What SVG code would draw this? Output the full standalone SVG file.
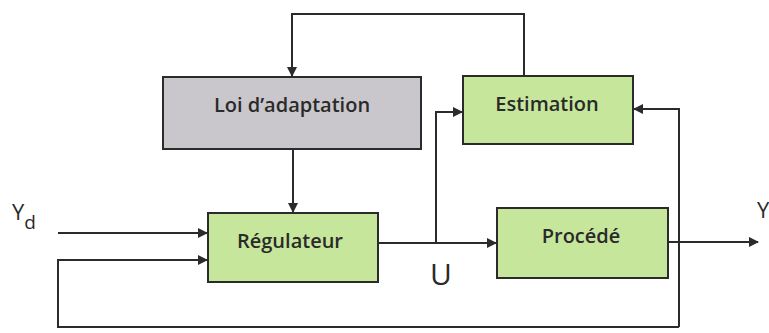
<svg xmlns="http://www.w3.org/2000/svg" width="769" height="333" viewBox="0 0 769 333">
  <style>
    .box { stroke: #2b2b2b; stroke-width: 2; }
    .green { fill: #c6e69c; }
    .gray { fill: #c9c7cc; }
    .lbl { font-family: "Open Sans", Lato, sans-serif; font-weight: 600; font-size: 20px; fill: #2a2a2a; text-anchor: middle; }
    .sig { font-family: "Open Sans", "Liberation Sans", sans-serif; fill: #2a2a2a; }
    .wire { fill: none; stroke: #2b2b2b; stroke-width: 2; }
  </style>
  <defs>
    <marker id="arr" viewBox="0 0 10 10" refX="9" refY="5" markerWidth="10" markerHeight="10" markerUnits="userSpaceOnUse" orient="auto">
      <path d="M0,0 L10,5 L0,10 Z" fill="#2b2b2b"/>
    </marker>
  </defs>

  <rect width="769" height="333" fill="#ffffff"/>

  <g id="connectors">
    <!-- estimation feeds adaptation law -->
    <polyline class="wire" points="524,76 524,14 292,14 292,76" marker-end="url(#arr)"/>
    <!-- adaptation law to controller -->
    <line class="wire" x1="293" y1="149" x2="293" y2="212" marker-end="url(#arr)"/>
    <!-- setpoint -->
    <line class="wire" x1="58" y1="233" x2="207" y2="233" marker-end="url(#arr)"/>
    <!-- control signal U -->
    <line class="wire" x1="378" y1="243" x2="496" y2="243" marker-end="url(#arr)"/>
    <polyline class="wire" points="436,243 436,112 462,112" marker-end="url(#arr)"/>
    <!-- process output -->
    <line class="wire" x1="668" y1="242" x2="758" y2="242" marker-end="url(#arr)"/>
    <!-- output feedback to estimation and controller -->
    <polyline class="wire" points="679,327 679,109 634,109" marker-end="url(#arr)"/>
    <polyline class="wire" points="679,327 58,327 58,260 207,260" marker-end="url(#arr)"/>
  </g>

  <g id="loi-adaptation">
    <rect class="box gray" x="163" y="77" width="258" height="72"/>
    <text class="lbl" x="292" y="112">Loi d’adaptation</text>
  </g>

  <g id="estimation">
    <rect class="box green" x="463" y="76" width="170" height="68"/>
    <text class="lbl" x="547" y="111">Estimation</text>
  </g>

  <g id="regulateur">
    <rect class="box green" x="208" y="213" width="170" height="69"/>
    <text class="lbl" x="290" y="248">Régulateur</text>
  </g>

  <g id="procede">
    <rect class="box green" x="497" y="208" width="171" height="70"/>
    <text class="lbl" x="581" y="243">Procédé</text>
  </g>

  <g id="signals">
    <text class="sig" x="12" y="220" font-size="22">Y<tspan font-size="19" dy="9">d</tspan></text>
    <text class="sig" x="441" y="285" font-size="30" text-anchor="middle">U</text>
    <text class="sig" x="757" y="218" font-size="22">Y</text>
  </g>
</svg>
